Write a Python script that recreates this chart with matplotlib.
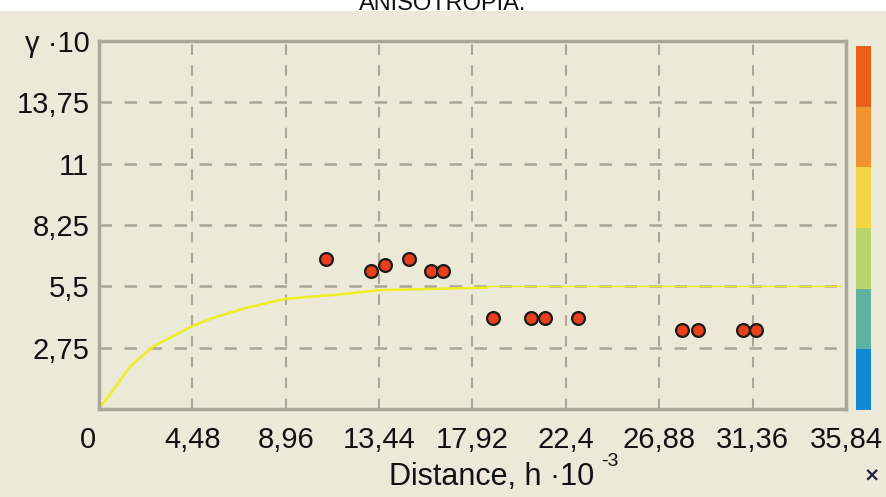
import matplotlib
matplotlib.use("Agg")
import matplotlib.pyplot as plt
import matplotlib.transforms as mtransforms
from matplotlib.patches import Rectangle

# experimental variogram points (h*10^-3, gamma*10)
dist = [10.90, 13.05, 13.70, 14.85, 15.94, 16.50,
        18.89, 20.73, 21.41, 22.99,
        27.98, 28.73, 30.91, 31.51]
gamma = [6.72, 6.19, 6.45, 6.72, 6.19, 6.19,
         4.06, 4.06, 4.06, 4.06,
         3.53, 3.53, 3.53, 3.53]

# model curve
model_h = [0.0, 0.69, 1.49, 2.61, 4.45, 5.49, 7.09, 8.93, 11.57, 13.49, 18.62]
model_g = [0.0, 0.86, 1.91, 2.81, 3.71, 4.09, 4.54, 4.94, 5.14, 5.33, 5.44]
tail_h = [18.62, 35.60]
tail_g = [5.50, 5.50]

xticks = [0, 4.48, 8.96, 13.44, 17.92, 22.4, 26.88, 31.36, 35.84]
xlabels = ["0", "4,48", "8,96", "13,44", "17,92", "22,4", "26,88", "31,36", "35,84"]
yticks = [2.75, 5.5, 8.25, 11, 13.75, 16.5]
ylabels = ["2,75", "5,5", "8,25", "11", "13,75", "\u03b3 \u00b710"]

bar_colors = ["#1488D2", "#5DB3A0", "#B9D46C", "#F3D645", "#F0922E", "#EA6018"]

bg = "#ECE9D8"
gridc = "#A9A698"
framec = "#ACA899"

W, H = 887, 497
fig = plt.figure(figsize=(W / 100, H / 100), dpi=100, facecolor="white")
fig.add_artist(Rectangle((0, 0), 1, 1 - 11 / H, transform=fig.transFigure,
                         facecolor=bg, edgecolor="none", zorder=-10))

ax = fig.add_axes([99 / W, 1 - 409 / H, (846 - 99) / W, (409 - 41) / H])
ax.set_facecolor(bg)
ax.set_xlim(0, 35.84)
ax.set_ylim(0, 16.5)

font = "Liberation Sans"
ax.set_xticks(xticks)
ax.set_xticklabels(xlabels, fontsize=21, family=font, color="#111111")
ax.set_yticks(yticks)
ax.set_yticklabels(ylabels, fontsize=21, family=font, color="#111111")
ax.tick_params(length=0)
ax.tick_params(axis="x", pad=12)
ax.tick_params(axis="y", pad=7)
off = mtransforms.ScaledTranslation(-11 / 100, 0, fig.dpi_scale_trans)
lab0 = ax.get_xticklabels()[0]
lab0.set_transform(lab0.get_transform() + off)

for x in xticks[1:-1]:
    ax.axvline(x, color=gridc, lw=1.5, dashes=(5, 5), zorder=1)
for y in yticks[:-1]:
    ax.axhline(y, color=gridc, lw=1.8, dashes=(5, 5), zorder=1)

for s in ax.spines.values():
    s.set_color(framec)
    s.set_linewidth(2.5)

ax.plot(model_h, model_g, color="#EEEE22", lw=1.8, zorder=2)
ax.plot(tail_h, tail_g, color="#EEEE22", lw=1.0, zorder=2)
ax.scatter(dist, gamma, s=85, marker="o", facecolor="#E8401C",
           edgecolor="#1a1a1a", linewidth=1.6, zorder=3)

# axis title, written as figure text to sit where the reference has it
fig.text(389 / W, 1 - 477 / H, "Distance, h \u00b710", fontsize=22, family=font,
         color="#111111", ha="left", va="center")
fig.text(601 / W, 1 - 461 / H, "-3", fontsize=14, family=font, color="#111111",
         ha="left", va="center")
fig.text(872 / W, 1 - 476 / H, "\u00d7", fontsize=14, family="DejaVu Sans",
         fontweight="bold", color="#222244", ha="center", va="center")

fig.text(443 / W, 1 - 10 / H, "ANISOTROPIA.", fontsize=17, family=font,
         color="#111111", ha="center", va="baseline")

# colour scale
cax = fig.add_axes([856 / W, 1 - 410 / H, 15 / W, (410 - 46) / H])
cax.set_xlim(0, 1)
cax.set_ylim(0, len(bar_colors))
cax.bar([0.5] * len(bar_colors), [1] * len(bar_colors), width=1,
        bottom=list(range(len(bar_colors))), color=bar_colors, linewidth=0)
cax.set_axis_off()

fig.savefig("out.png", dpi=100, facecolor=fig.get_facecolor())
